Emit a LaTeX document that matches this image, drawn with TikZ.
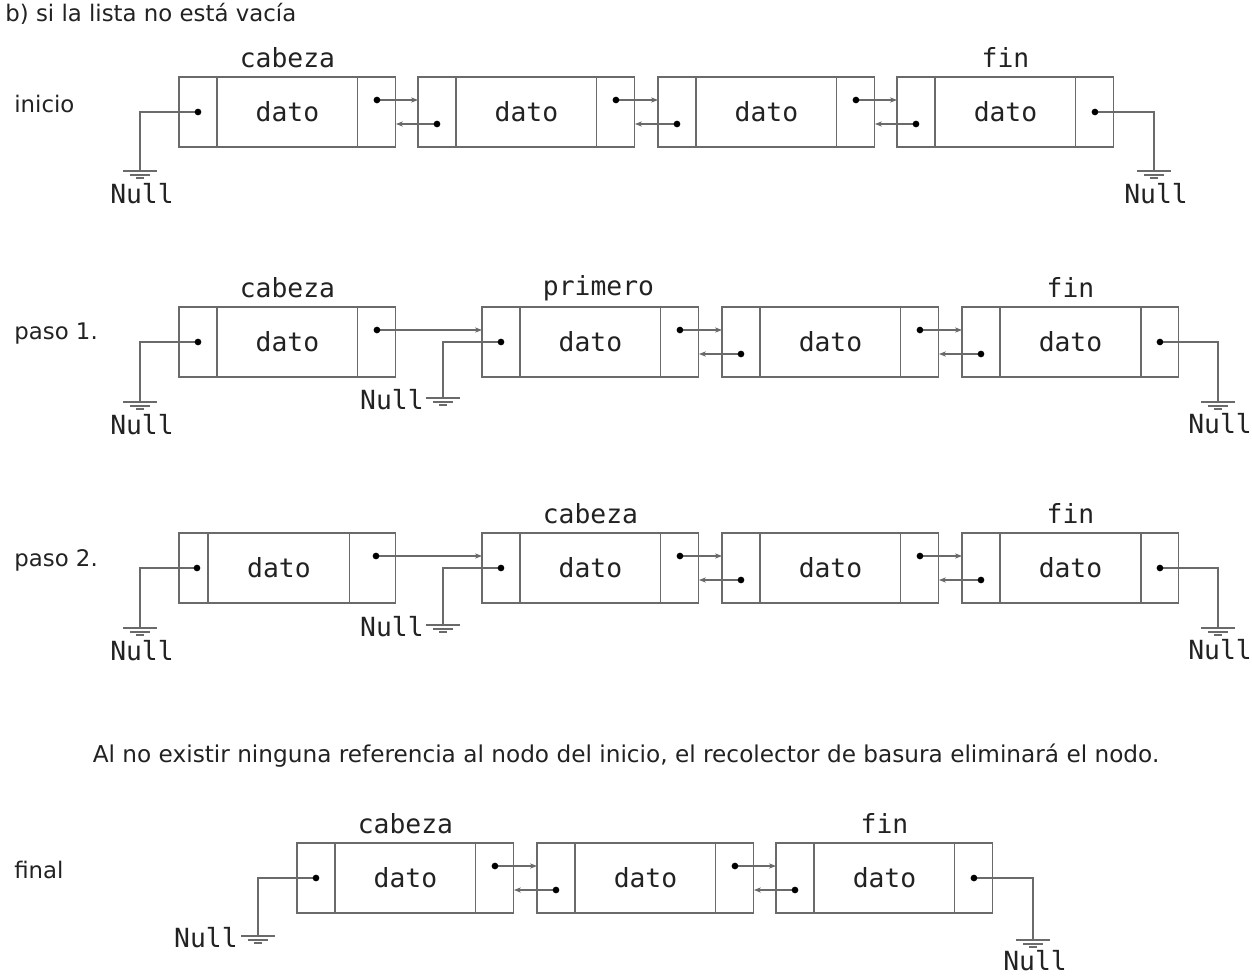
\documentclass[tikz,border=0pt]{standalone}
\usepackage{fontspec}
\setmainfont{DejaVu Sans}
\newfontfamily\monofont{DejaVu Sans Mono}
\usepackage{xcolor}
\usepackage{tikz}
\usetikzlibrary{calc,arrows.meta}

\definecolor{gris}{HTML}{6A6A6A}
\definecolor{tinta}{HTML}{222222}

\tikzset{
  celda/.style={draw=gris, line width=0.6pt, minimum height=1.4cm, inner sep=0pt, outer sep=0pt},
  puntero/.style={celda, minimum width=0.76cm},
  campo/.style={celda, minimum width=2.82cm, text=tinta, font=\monofont\fontsize{15}{15}\selectfont},
  etiqueta/.style={text=tinta, inner sep=0pt, font=\monofont\fontsize{15}{15}\selectfont},
  texto/.style={text=tinta, inner sep=0pt, anchor=west, font=\fontsize{13}{13}\selectfont},
  linea/.style={draw=gris, line width=0.6pt},
  enlace/.style={linea, -{Stealth[length=4pt,width=3pt]}},
}

% nodo de la lista: nombre, x izquierda, y centro
\newcommand{\nodolista}[3]{%
  \node[puntero, anchor=west] (#1l) at (#2,#3) {};
  \node[campo, anchor=west] (#1d) at (#1l.east) {dato};
  \node[puntero, anchor=west] (#1r) at (#1d.east) {};
  \coordinate (#1-izq) at (#1l.center);
  \coordinate (#1-der) at (#1r.center);
  \coordinate (#1-in) at ($(#1l.center)+(0,12)$);
  \coordinate (#1-out) at ($(#1r.center)+(0,-12)$);
}
% punto de un puntero
\newcommand{\punto}[1]{\fill (#1) circle (1.9pt);}
% simbolo de tierra
\newcommand{\tierra}[1]{%
  \draw[linea] ($(#1)+(-17,0)$) -- ++(34,0);
  \draw[linea] ($(#1)+(-10,4)$) -- ++(20,0);
  \draw[linea] ($(#1)+(-4,7)$) -- ++(8,0);
}

\begin{document}
\begin{tikzpicture}[x=0.02cm, y=-0.02cm]
\useasboundingbox (0,0) rectangle (1252,977);

\node[texto] (titulo) at (5,14) {b) si la lista no está vacía};

%% fila 1
\node[texto] (inicio) at (14,104) {inicio};
\nodolista{a1}{179}{112}
\nodolista{a2}{418}{112}
\nodolista{a3}{658}{112}
\nodolista{a4}{897}{112}
\node[etiqueta] (cab1) at ($(a1d.north)+(0,-19)$) {cabeza};
\node[etiqueta] (fin1) at ($(a4d.north)+(0,-20)$) {fin};
\foreach \p/\q in {a1/a2, a2/a3, a3/a4} {
  \draw[enlace] (\p-out) -- (\p-out -| \q l.west);
  \draw[enlace] (\q-in) -- (\q-in -| \p r.east);
  \punto{\p-out} \punto{\q-in}
}
\coordinate (t1) at (140,171);
\coordinate (t2) at (1154,171);
\draw[linea] (a1-izq) -| (t1); \punto{a1-izq}
\draw[linea] (a4-der) -| (t2); \punto{a4-der}
\tierra{t1} \tierra{t2}
\node[etiqueta] (null1) at (142,194) {Null};
\node[etiqueta] (null2) at (1156,194) {Null};

%% fila 2
\node[texto] (paso1) at (14,334) {paso 1.};
\nodolista{b1}{179}{342}
\nodolista{b2}{482}{342}
\nodolista{b3}{722}{342}
\nodolista{b4}{962}{342}
\node[etiqueta] (cab2) at ($(b1d.north)+(0,-19)$) {cabeza};
\node[etiqueta] (pri2) at ($(b2d.north)+(8,-19)$) {primero};
\node[etiqueta] (fin2) at ($(b4d.north)+(0,-20)$) {fin};
\draw[enlace] (b1-out) -- (b1-out -| b2l.west); \punto{b1-out}
\foreach \p/\q in {b2/b3, b3/b4} {
  \draw[enlace] (\p-out) -- (\p-out -| \q l.west);
  \draw[enlace] (\q-in) -- (\q-in -| \p r.east);
  \punto{\p-out} \punto{\q-in}
}
\coordinate (t3) at (140,402);
\coordinate (t4) at (443,398);
\coordinate (t5) at (1218,402);
\draw[linea] (b1-izq) -| (t3); \punto{b1-izq}
\draw[linea] (b2-izq) -| (t4); \punto{b2-izq}
\draw[linea] (b4-der) -| (t5); \punto{b4-der}
\tierra{t3} \tierra{t4} \tierra{t5}
\node[etiqueta] (null3) at (142,425) {Null};
\node[etiqueta, anchor=east] (null4) at (424,400) {Null};
\node[etiqueta] (null5) at (1220,424) {Null};

%% fila 3
\node[texto] (paso2) at (14,560) {paso 2.};
\node[celda, minimum width=0.58cm, anchor=west] (c1l) at (179,568) {};
\node[campo, minimum width=2.84cm, anchor=west] (c1d) at (c1l.east) {dato};
\node[celda, minimum width=0.92cm, anchor=west] (c1r) at (c1d.east) {};
\coordinate (c1-izq) at (197,568);
\coordinate (c1-out) at (376,556);
\nodolista{c2}{482}{568}
\nodolista{c3}{722}{568}
\nodolista{c4}{962}{568}
\node[etiqueta] (cab3) at ($(c2d.north)+(0,-19)$) {cabeza};
\node[etiqueta] (fin3) at ($(c4d.north)+(0,-20)$) {fin};
\draw[enlace] (c1-out) -- (c1-out -| c2l.west); \punto{c1-out}
\foreach \p/\q in {c2/c3, c3/c4} {
  \draw[enlace] (\p-out) -- (\p-out -| \q l.west);
  \draw[enlace] (\q-in) -- (\q-in -| \p r.east);
  \punto{\p-out} \punto{\q-in}
}
\coordinate (t6) at (140,628);
\coordinate (t7) at (443,625);
\coordinate (t8) at (1218,628);
\draw[linea] (c1-izq) -| (t6); \punto{c1-izq}
\draw[linea] (c2-izq) -| (t7); \punto{c2-izq}
\draw[linea] (c4-der) -| (t8); \punto{c4-der}
\tierra{t6} \tierra{t7} \tierra{t8}
\node[etiqueta] (null6) at (142,651) {Null};
\node[etiqueta, anchor=east] (null7) at (424,627) {Null};
\node[etiqueta] (null8) at (1220,650) {Null};

\node[text=tinta, font=\fontsize{13.2}{13.2}\selectfont] (nota) at (626,756)
  {Al no existir ninguna referencia al nodo del inicio, el recolector de basura eliminará el nodo.};

%% fila 4
\node[texto] (final) at (14,870) {final};
\nodolista{d1}{297}{878}
\nodolista{d2}{537}{878}
\nodolista{d3}{776}{878}
\node[etiqueta] (cab4) at ($(d1d.north)+(0,-19)$) {cabeza};
\node[etiqueta] (fin4) at ($(d3d.north)+(0,-20)$) {fin};
\foreach \p/\q in {d1/d2, d2/d3} {
  \draw[enlace] (\p-out) -- (\p-out -| \q l.west);
  \draw[enlace] (\q-in) -- (\q-in -| \p r.east);
  \punto{\p-out} \punto{\q-in}
}
\coordinate (t9) at (258,936);
\coordinate (t10) at (1033,940);
\draw[linea] (d1-izq) -| (t9); \punto{d1-izq}
\draw[linea] (d3-der) -| (t10); \punto{d3-der}
\tierra{t9} \tierra{t10}
\node[etiqueta, anchor=east] (null9) at (238,938) {Null};
\node[etiqueta] (null10) at (1035,961) {Null};
\end{tikzpicture}
\end{document}
